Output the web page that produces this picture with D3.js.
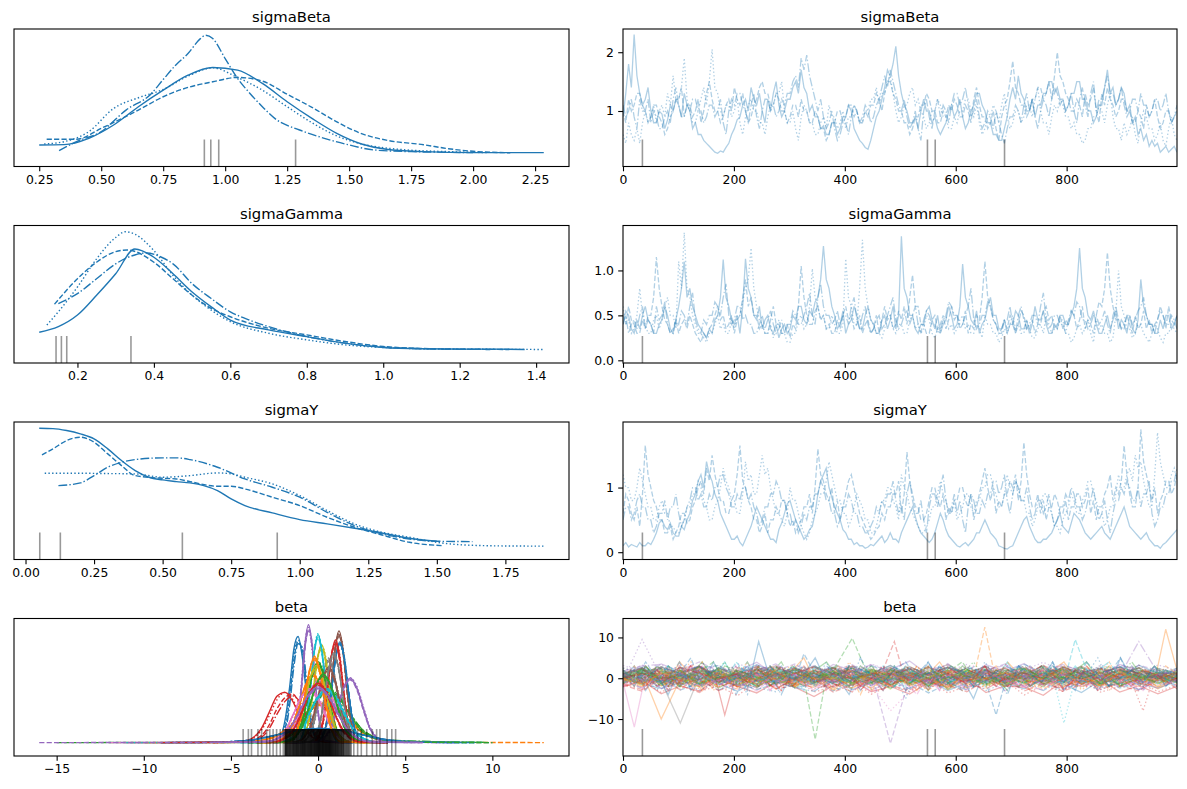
<!DOCTYPE html>
<html>
<head>
<meta charset="utf-8">
<script src="https://cdn.jsdelivr.net/npm/d3@7"></script>
<style>
body { margin: 0; background: #fff; }
text { font-family: "DejaVu Sans", sans-serif; }
</style>
</head>
<body>
<script>
// ---- sigmaBeta : kde per chain (x grid, density) ----
var sbKdeX = [
  [0.25,0.35,0.45,0.55,0.65,0.75,0.85,0.95,1.05,1.15,1.25,1.35,1.45,1.55,1.65,1.8,2.0,2.285],
  [0.28,0.4,0.5,0.65,0.75,0.85,0.95,1.05,1.15,1.25,1.35,1.45,1.55,1.65,1.8,1.9,2.0,2.15],
  [0.27,0.35,0.45,0.55,0.65,0.75,0.85,0.95,1.05,1.15,1.25,1.35,1.45,1.55,1.7,1.9,2.06],
  [0.33,0.4,0.5,0.6,0.7,0.75,0.8,0.85,0.9,0.92,0.95,1.0,1.05,1.1,1.15,1.2,1.3,1.4,1.5,1.6,1.75,1.9,2.0]
];
var sbKdeY = [
  [0.127,0.132,0.228,0.431,0.710,0.963,1.191,1.308,1.268,1.065,0.786,0.532,0.304,0.142,0.061,0.025,0.010,0.010],
  [0.213,0.213,0.380,0.659,0.862,1.004,1.09,1.156,1.10,0.90,0.70,0.48,0.30,0.20,0.13,0.07,0.03,0.008],
  [0.142,0.177,0.330,0.684,0.847,0.973,1.176,1.303,1.156,0.963,0.710,0.466,0.264,0.142,0.061,0.025,0.010],
  [0.041,0.177,0.330,0.659,0.902,1.125,1.343,1.521,1.749,1.8,1.749,1.445,1.141,0.913,0.710,0.532,0.355,0.228,0.127,0.051,0.025,0.015,0.010]
];
var sbDiv = [0.916,0.942,0.974,1.284];

// ---- sigmaGamma ----
var sgKdeX = [
  [0.1,0.15,0.2,0.25,0.3,0.35,0.4,0.45,0.5,0.55,0.6,0.7,0.8,0.9,1.0,1.1,1.2,1.3,1.37],
  [0.14,0.2,0.25,0.3,0.33,0.4,0.45,0.5,0.55,0.6,0.7,0.8,0.9,1.0,1.1,1.2,1.33],
  [0.12,0.15,0.2,0.25,0.3,0.325,0.35,0.4,0.45,0.5,0.55,0.6,0.7,0.8,0.9,1.0,1.2,1.42],
  [0.15,0.2,0.25,0.3,0.35,0.38,0.42,0.45,0.5,0.55,0.6,0.65,0.7,0.8,0.9,1.0,1.1,1.28]
];
var sgKdeY = [
  [0.475,0.627,0.941,1.478,2.061,2.733,2.509,2.061,1.568,1.165,0.806,0.538,0.358,0.179,0.063,0.027,0.018,0.018,0.009],
  [1.236,1.926,2.374,2.661,2.706,2.374,1.926,1.478,1.12,0.896,0.582,0.403,0.224,0.09,0.036,0.018,0.009],
  [0.672,1.03,1.702,2.464,3.046,3.2,3.136,2.688,2.016,1.478,1.075,0.762,0.448,0.269,0.134,0.063,0.018,0.009],
  [1.254,1.523,1.926,2.33,2.571,2.625,2.509,2.33,1.792,1.389,1.03,0.806,0.627,0.358,0.179,0.072,0.027,0.009]
];
var sgDiv = [0.144,0.158,0.172,0.340];

// ---- sigmaY ----
var syKdeX = [
  [0.05,0.1,0.15,0.2,0.25,0.3,0.35,0.4,0.45,0.5,0.55,0.6,0.65,0.7,0.75,0.8,0.9,1.0,1.1,1.2,1.3,1.4,1.5],
  [0.06,0.1,0.15,0.2,0.25,0.3,0.35,0.4,0.5,0.55,0.6,0.7,0.75,0.8,0.9,1.0,1.1,1.2,1.3,1.4,1.52],
  [0.07,0.2,0.3,0.4,0.5,0.6,0.7,0.75,0.8,0.9,1.0,1.1,1.2,1.3,1.4,1.5,1.6,1.75,1.89],
  [0.12,0.2,0.25,0.3,0.35,0.4,0.5,0.55,0.6,0.7,0.8,0.9,1.0,1.1,1.2,1.3,1.4,1.5,1.63]
];
var syKdeY = [
  [1.451,1.447,1.423,1.382,1.32,1.197,1.054,0.931,0.849,0.816,0.795,0.779,0.746,0.685,0.582,0.5,0.41,0.328,0.275,0.221,0.164,0.098,0.062],
  [1.123,1.197,1.3,1.341,1.279,1.136,0.992,0.869,0.836,0.828,0.795,0.738,0.738,0.705,0.603,0.5,0.357,0.234,0.139,0.049,0.008],
  [0.898,0.898,0.894,0.89,0.849,0.869,0.902,0.89,0.849,0.767,0.623,0.439,0.275,0.172,0.111,0.049,0.016,0.004,0.002],
  [0.746,0.779,0.869,0.972,1.033,1.066,1.087,1.087,1.066,0.972,0.828,0.726,0.603,0.418,0.254,0.152,0.09,0.062,0.057]
];
var syDiv = [0.052,0.127,0.572,0.918];

// ---- beta : kde per parameter (x grid, 4 chains) ----
var betaKdeX = [
  [-3.5,-2.35,-1.87,-1.63,-1.39,-1.15,-0.91,-0.67,-0.43,0.05,2.0],
  [-7,-3.9,-2.22,-1.38,-0.54,0.3,1.14,1.98,2.82,4.5,7,12.95],
  [-15,-5,-2.7,-1.38,-0.72,-0.06,0.6,1.26,1.92,2.58,3.9,9.5],
  [-6,-4.15,-3.25,-2.8,-2.35,-1.9,-1.45,-1.0,-0.55,0.35,1.5],
  [-3,-1.55,-1.15,-0.95,-0.75,-0.55,-0.35,-0.15,0.05,0.45,2],
  [-1.5,0.06,0.52,0.74,0.97,1.2,1.43,1.66,1.88,2.34,3.5],
  [-12,-5,-2.6,-1.52,-0.98,-0.44,0.1,0.64,1.18,1.72,2.8,5],
  [-11,-3,-0.9,-0.3,0.0,0.3,0.6,0.9,1.2,1.5,2.1,4],
  [-2.5,-1.06,-0.56,-0.3,-0.05,0.2,0.45,0.7,0.96,1.46,3],
  [-2.5,-1.14,-0.68,-0.46,-0.23,0,0.23,0.46,0.68,1.14,2.5],
  [-1.5,-0.01,0.49,0.75,1.0,1.25,1.5,1.75,2.01,2.51,3.8],
  [-10,-4,-2.4,-1.56,-1.14,-0.72,-0.3,0.12,0.54,0.96,1.8,3.5],
  [-3.5,-1.65,-0.99,-0.66,-0.33,0,0.33,0.66,0.99,1.65,3.5],
  [-1.8,-0.2,0.28,0.52,0.76,1.0,1.24,1.48,1.72,2.2,3.5],
  [-1.5,-0.1,0.68,1.07,1.46,1.85,2.24,2.63,3.02,3.8,8],
  [-3,-1.2,-0.48,-0.12,0.24,0.6,0.96,1.32,1.68,2.4,4],
  [-8,-2.9,-1.94,-1.46,-0.98,-0.5,-0.02,0.46,0.94,1.9,3.5],
  [-2,-0.45,0.09,0.36,0.63,0.9,1.17,1.44,1.71,2.25,3.5],
  [-3.5,-1.9,-1.18,-0.82,-0.46,-0.1,0.26,0.62,0.98,1.7,3],
  [-11,-4.5,-2.2,-1.12,-0.58,-0.04,0.5,1.04,1.58,2.12,3.2,10],
  [-9,-6.5,-3.86,-2.54,-1.22,0.1,1.42,2.74,4.06,6.7,9],
  [-3.5,-1.7,-1.1,-0.8,-0.5,-0.2,0.1,0.4,0.7,1.3,2.8],
  [-4,-1.8,-0.96,-0.54,-0.12,0.3,0.72,1.14,1.56,2.4,10],
  [-9,-2.4,-1.44,-0.96,-0.48,0,0.48,0.96,1.44,2.4,4],
  [-16,-6,-3,-1.8,-1.2,-0.6,0,0.6,1.2,1.8,3,6]
];
var betaKdeY = [
  [[0.001,0.008,0.14,0.31,0.52,0.59,0.48,0.28,0.11,0.007,0.001],
   [0.001,0.004,0.09,0.25,0.46,0.56,0.52,0.33,0.14,0.01,0.001],
   [0.001,0.006,0.11,0.28,0.49,0.57,0.5,0.3,0.12,0.008,0.001],
   [0.001,0.003,0.07,0.21,0.42,0.55,0.53,0.36,0.16,0.012,0.001]],
  [[0.002,0.006,0.05,0.11,0.18,0.21,0.18,0.1,0.04,0.006,0.002,null],
   [0.002,0.005,0.04,0.1,0.17,0.22,0.19,0.11,0.05,0.008,0.003,0.001],
   [0.002,0.007,0.05,0.12,0.19,0.21,0.17,0.1,0.04,0.005,0.002,null],
   [null,0.006,0.04,0.11,0.18,0.22,0.18,0.11,0.04,0.006,0.002,null]],
  [[null,0.002,0.01,0.06,0.14,0.24,0.29,0.24,0.14,0.06,0.012,0.002],
   [0.001,0.002,0.01,0.05,0.13,0.23,0.3,0.25,0.15,0.07,0.014,null],
   [null,0.003,0.012,0.06,0.15,0.25,0.29,0.23,0.13,0.05,0.01,null],
   [null,0.002,0.01,0.05,0.13,0.23,0.28,0.25,0.15,0.07,0.016,0.002]],
  [[0.001,0.012,0.08,0.17,0.26,0.28,0.23,0.13,0.05,0.004,0.001],
   [0.001,0.005,0.04,0.1,0.19,0.25,0.27,0.2,0.1,0.01,0.001],
   [0.001,0.01,0.07,0.15,0.24,0.28,0.24,0.14,0.06,0.005,0.001],
   [null,0.003,0.03,0.08,0.16,0.23,0.26,0.22,0.12,0.015,0.002]],
  [[0.001,0.008,0.13,0.32,0.55,0.655,0.55,0.32,0.13,0.008,0.001],
   [0.001,0.006,0.11,0.29,0.52,0.63,0.56,0.34,0.14,0.01,0.001],
   [0.001,0.01,0.15,0.34,0.56,0.64,0.52,0.3,0.12,0.007,0.001],
   [0.001,0.007,0.12,0.31,0.53,0.62,0.54,0.33,0.14,0.009,0.001]],
  [[0.001,0.008,0.12,0.3,0.52,0.62,0.52,0.3,0.12,0.008,0.001],
   [0.001,0.01,0.14,0.32,0.52,0.6,0.5,0.28,0.11,0.007,0.001],
   [0.001,0.007,0.11,0.29,0.5,0.61,0.53,0.31,0.13,0.009,0.001],
   [0.001,0.009,0.13,0.31,0.51,0.59,0.51,0.3,0.12,0.008,0.001]],
  [[0.001,0.002,0.01,0.07,0.17,0.29,0.35,0.29,0.17,0.07,0.01,0.002],
   [null,0.002,0.012,0.08,0.18,0.3,0.34,0.28,0.16,0.06,0.009,0.002],
   [null,0.002,0.009,0.06,0.16,0.28,0.35,0.3,0.18,0.07,0.011,0.002],
   [null,0.003,0.011,0.07,0.17,0.29,0.34,0.29,0.17,0.07,0.01,0.002]],
  [[0.001,0.002,0.006,0.09,0.23,0.39,0.46,0.39,0.23,0.09,0.006,0.001],
   [null,0.002,0.007,0.1,0.24,0.4,0.47,0.38,0.22,0.08,0.005,0.001],
   [null,0.001,0.005,0.08,0.22,0.38,0.47,0.4,0.24,0.1,0.007,0.001],
   [null,0.002,0.006,0.09,0.23,0.39,0.45,0.39,0.23,0.09,0.006,0.001]],
  [[0.001,0.007,0.11,0.27,0.46,0.545,0.46,0.27,0.11,0.007,0.001],
   [0.001,0.008,0.12,0.28,0.46,0.53,0.44,0.26,0.1,0.006,0.001],
   [0.001,0.006,0.1,0.26,0.45,0.54,0.47,0.28,0.12,0.008,0.001],
   [0.001,0.007,0.11,0.27,0.45,0.52,0.45,0.27,0.11,0.007,0.001]],
  [[0.001,0.008,0.12,0.29,0.5,0.6,0.5,0.29,0.12,0.008,0.001],
   [0.001,0.007,0.11,0.28,0.49,0.59,0.51,0.3,0.13,0.009,0.001],
   [0.002,0.009,0.13,0.3,0.51,0.606,0.49,0.28,0.11,0.007,0.001],
   [0.001,0.008,0.12,0.29,0.5,0.58,0.49,0.29,0.12,0.008,0.001]],
  [[0.001,0.007,0.11,0.28,0.47,0.56,0.47,0.28,0.11,0.007,0.001],
   [0.001,0.006,0.1,0.26,0.46,0.55,0.48,0.29,0.12,0.008,0.001],
   [0.001,0.008,0.12,0.29,0.47,0.54,0.46,0.27,0.1,0.006,0.001],
   [0.001,0.007,0.11,0.27,0.46,0.55,0.47,0.28,0.11,0.007,0.001]],
  [[0.001,0.002,0.008,0.08,0.19,0.32,0.38,0.32,0.19,0.08,0.007,0.001],
   [null,0.002,0.009,0.08,0.19,0.32,0.37,0.31,0.18,0.07,0.006,0.001],
   [null,0.002,0.007,0.07,0.18,0.31,0.38,0.33,0.2,0.08,0.008,0.001],
   [null,0.002,0.008,0.08,0.19,0.32,0.37,0.32,0.19,0.08,0.007,0.001]],
  [[0.001,0.006,0.09,0.22,0.38,0.45,0.38,0.22,0.09,0.006,0.001],
   [0.001,0.007,0.1,0.23,0.38,0.44,0.37,0.21,0.08,0.005,0.001],
   [0.001,0.005,0.08,0.21,0.37,0.45,0.39,0.23,0.1,0.007,0.001],
   [0.001,0.006,0.09,0.22,0.37,0.43,0.37,0.22,0.09,0.006,0.001]],
  [[0.001,0.007,0.11,0.28,0.48,0.57,0.48,0.28,0.11,0.007,0.001],
   [0.001,0.009,0.13,0.3,0.49,0.55,0.45,0.26,0.1,0.006,0.001],
   [0.001,0.006,0.1,0.27,0.47,0.56,0.49,0.29,0.12,0.008,0.001],
   [0.001,0.008,0.12,0.29,0.48,0.54,0.46,0.27,0.11,0.007,0.001]],
  [[0.001,0.005,0.07,0.18,0.3,0.36,0.3,0.18,0.07,0.005,0.001],
   [0.001,0.006,0.08,0.19,0.31,0.35,0.29,0.17,0.07,0.005,null],
   [0.001,0.004,0.06,0.17,0.29,0.36,0.31,0.19,0.08,0.006,null],
   [0.001,0.005,0.07,0.18,0.3,0.35,0.3,0.18,0.07,0.005,0.001]],
  [[0.001,0.006,0.08,0.2,0.35,0.42,0.35,0.2,0.08,0.006,0.001],
   [0.001,0.007,0.09,0.21,0.35,0.41,0.34,0.19,0.08,0.005,0.001],
   [0.001,0.005,0.08,0.2,0.34,0.42,0.36,0.21,0.09,0.007,0.001],
   [0.001,0.006,0.08,0.2,0.35,0.4,0.34,0.2,0.08,0.006,0.001]],
  [[null,0.004,0.06,0.15,0.25,0.3,0.25,0.15,0.06,0.004,0.001],
   [null,0.005,0.06,0.15,0.25,0.29,0.24,0.14,0.05,0.004,0.001],
   [0.001,0.004,0.05,0.14,0.24,0.3,0.26,0.16,0.06,0.005,0.001],
   [null,0.004,0.06,0.15,0.25,0.29,0.25,0.15,0.06,0.004,0.001]],
  [[0.001,0.006,0.1,0.25,0.42,0.5,0.42,0.25,0.1,0.006,0.001],
   [0.001,0.007,0.11,0.26,0.42,0.49,0.41,0.24,0.09,0.005,0.001],
   [0.001,0.005,0.09,0.24,0.41,0.5,0.43,0.26,0.11,0.007,0.001],
   [0.001,0.006,0.1,0.25,0.41,0.48,0.41,0.25,0.1,0.006,0.001]],
  [[0.001,0.006,0.08,0.21,0.36,0.43,0.36,0.21,0.08,0.006,0.001],
   [0.001,0.005,0.08,0.2,0.36,0.42,0.36,0.22,0.09,0.007,0.001],
   [0.001,0.007,0.09,0.22,0.36,0.42,0.35,0.2,0.08,0.005,0.001],
   [0.001,0.006,0.08,0.21,0.35,0.41,0.35,0.21,0.08,0.006,0.001]],
  [[null,0.001,0.004,0.06,0.15,0.25,0.3,0.25,0.15,0.06,0.004,null],
   [null,0.001,0.005,0.06,0.15,0.25,0.29,0.24,0.14,0.06,0.005,0.001],
   [0.001,0.001,0.004,0.05,0.14,0.25,0.3,0.26,0.16,0.06,0.004,null],
   [null,null,0.004,0.06,0.15,0.24,0.29,0.25,0.15,0.06,0.004,null]],
  [[0.001,0.002,0.015,0.04,0.068,0.08,0.068,0.04,0.015,0.002,0.001],
   [0.001,0.002,0.014,0.039,0.067,0.079,0.069,0.041,0.016,0.002,null],
   [null,0.002,0.016,0.041,0.068,0.078,0.066,0.039,0.014,0.002,0.001],
   [null,0.002,0.015,0.04,0.067,0.08,0.068,0.04,0.015,0.002,null]],
  [[0.001,0.006,0.1,0.24,0.4,0.48,0.4,0.24,0.1,0.006,0.001],
   [0.001,0.007,0.1,0.25,0.4,0.47,0.39,0.23,0.09,0.005,0.001],
   [0.001,0.005,0.09,0.23,0.39,0.48,0.41,0.25,0.1,0.007,0.001],
   [0.001,0.006,0.1,0.24,0.39,0.46,0.39,0.24,0.1,0.006,0.001]],
  [[0.001,0.007,0.08,0.19,0.32,0.38,0.32,0.19,0.08,0.007,null],
   [0.001,0.006,0.08,0.19,0.31,0.37,0.32,0.2,0.08,0.008,0.001],
   [0.001,0.007,0.08,0.19,0.32,0.37,0.31,0.19,0.07,0.006,null],
   [null,0.007,0.08,0.19,0.32,0.38,0.32,0.19,0.08,0.007,null]],
  [[0.001,0.005,0.07,0.16,0.28,0.33,0.28,0.16,0.07,0.005,0.001],
   [null,0.005,0.07,0.17,0.28,0.32,0.27,0.16,0.06,0.005,0.001],
   [0.001,0.004,0.06,0.16,0.27,0.33,0.29,0.17,0.07,0.005,0.001],
   [null,0.005,0.07,0.16,0.28,0.32,0.28,0.16,0.07,0.005,0.001]],
  [[null,0.002,0.006,0.06,0.15,0.26,0.31,0.26,0.15,0.06,0.006,0.001],
   [0.001,0.002,0.007,0.06,0.15,0.26,0.3,0.25,0.15,0.06,0.006,0.001],
   [null,0.002,0.005,0.06,0.15,0.26,0.31,0.26,0.16,0.06,0.006,0.001],
   [null,0.002,0.006,0.06,0.15,0.25,0.3,0.26,0.15,0.06,0.007,0.002]]
];
var betaDiv = [-4.3,-4.0,-3.82,-3.45,-3.24,-2.95,-2.77,-2.58,-2.38,-2.17,-2.0,-1.9,-1.88,-1.87,-1.85,-1.83,-1.8,-1.79,-1.77,-1.74,
  -1.72,-1.69,-1.67,-1.65,-1.62,-1.6,-1.58,-1.56,-1.52,-1.5,-1.49,-1.45,-1.43,-1.41,-1.4,-1.37,-1.35,-1.33,-1.3,-1.28,
  -1.26,-1.25,-1.22,-1.2,-1.18,-1.17,-1.14,-1.12,-1.1,-1.09,-1.05,-1.03,-1.01,-1.0,-0.98,-0.95,-0.93,-0.92,-0.9,-0.88,
  -0.86,-0.85,-0.82,-0.8,-0.79,-0.77,-0.75,-0.73,-0.72,-0.7,-0.67,-0.65,-0.64,-0.61,-0.59,-0.58,-0.55,-0.53,-0.52,-0.5,
  -0.47,-0.46,-0.44,-0.42,-0.4,-0.39,-0.38,-0.35,-0.33,-0.32,-0.3,-0.27,-0.26,-0.24,-0.22,-0.2,-0.19,-0.17,-0.15,-0.13,
  -0.12,-0.1,-0.08,-0.07,-0.05,-0.03,-0.01,0.0,0.02,0.03,0.04,0.06,0.08,0.09,0.1,0.12,0.14,0.15,0.17,0.19,
  0.21,0.22,0.24,0.26,0.27,0.28,0.3,0.32,0.33,0.35,0.37,0.39,0.4,0.42,0.44,0.45,0.47,0.49,0.5,0.52,
  0.54,0.55,0.57,0.59,0.6,0.62,0.64,0.65,0.66,0.68,0.7,0.71,0.73,0.75,0.77,0.78,0.8,0.83,0.84,0.86,
  0.88,0.9,0.92,0.95,0.97,0.98,1.0,1.03,1.04,1.06,1.1,1.11,1.12,1.15,1.18,1.19,1.22,1.25,1.27,1.3,
  1.33,1.35,1.36,1.4,1.43,1.45,1.47,1.5,1.55,1.58,1.62,1.65,1.7,1.72,1.77,1.8,1.85,1.9,2.05,2.27,
  2.48,2.79,3.11,3.36,3.55,3.96,4.23,4.45];

// ---- traces (thinned draws, 4 chains) ----
var sbTrace = [
  [0.9,1.3,1.8,1.4,2.3,1.6,1.3,1.1,1.2,1.4,1.0,0.8,0.8,1.0,0.95,0.7,0.85,1.1,1.0,1.2,
   1.1,0.9,1.3,1.1,1.0,0.7,0.8,0.6,0.6,0.5,0.45,0.4,0.35,0.3,0.28,0.32,0.3,0.38,0.45,0.6,
   0.7,0.85,0.9,1.1,1.2,1.0,1.4,1.2,1.1,1.3,1.0,0.8,1.2,1.0,1.3,1.5,1.1,0.9,1.0,1.2,
   1.2,1.4,1.5,1.3,1.7,1.4,1.3,1.0,1.1,0.9,0.9,0.7,0.75,0.6,0.6,0.8,0.8,0.6,0.7,0.9,
   0.9,1.1,1.0,0.7,0.6,0.5,0.45,0.38,0.35,0.5,0.7,0.9,1.0,1.2,1.4,1.7,1.6,1.8,2.1,1.6,
   1.3,1.1,1.0,0.8,0.8,0.9,0.7,1.0,1.2,1.0,1.0,0.8,0.9,0.7,0.6,0.7,0.8,1.0,1.1,0.9,
   1.0,1.2,0.9,0.7,0.8,1.0,1.1,1.3,1.3,1.1,1.0,0.8,0.8,0.6,0.6,0.5,0.5,0.7,0.9,1.2,
   1.4,1.2,1.6,1.3,1.2,1.0,1.0,1.2,0.9,1.1,1.1,1.3,1.3,1.5,1.5,1.3,1.4,1.2,1.2,1.0,
   1.1,1.3,1.3,1.5,1.5,1.2,1.2,1.0,1.0,0.8,0.9,1.1,1.1,1.4,1.7,1.3,1.4,1.1,1.2,1.4,
   1.3,1.0,1.1,0.8,0.9,0.6,0.7,0.5,0.6,0.4,0.5,0.4,0.45,0.3,0.35,0.4,0.3,0.35,0.4,0.3],
  [1.0,0.8,1.2,1.0,1.1,1.3,1.3,1.1,1.0,0.8,0.9,1.1,1.1,0.9,0.8,0.6,0.7,0.9,1.0,1.2,
   1.2,1.4,0.9,1.1,1.1,0.9,1.0,1.2,0.8,1.0,1.3,1.5,1.2,1.0,1.0,0.8,0.9,1.1,1.2,1.0,
   1.4,1.2,1.1,1.3,1.0,0.8,0.9,1.1,1.2,1.4,1.5,1.3,1.3,1.1,1.1,1.3,1.2,1.0,1.0,0.8,
   0.9,1.1,1.1,0.9,1.2,1.0,1.0,0.8,0.8,1.0,0.9,0.7,0.7,0.5,0.6,0.8,0.8,1.0,1.0,0.8,
   0.9,1.1,1.1,0.9,1.0,0.8,0.8,1.0,0.9,1.1,1.1,1.3,1.2,1.0,1.3,1.5,1.5,1.3,1.2,1.0,
   1.0,0.8,0.8,0.6,0.7,0.9,0.9,1.1,1.1,1.3,1.2,1.0,1.0,0.8,0.8,1.0,0.9,1.1,1.0,1.2,
   1.1,0.9,0.9,1.1,1.0,0.8,1.2,1.4,1.1,0.9,0.9,0.7,0.8,1.0,0.7,0.5,0.9,1.1,1.2,1.5,
   1.85,1.4,1.3,1.1,1.1,0.9,1.0,1.2,1.2,1.4,1.4,1.2,1.3,1.5,1.2,1.6,2.0,1.6,1.5,1.3,
   1.2,1.0,1.0,1.2,1.1,0.9,1.3,1.1,1.2,1.4,1.0,0.8,1.3,1.1,1.4,1.2,1.1,0.9,1.0,1.2,
   1.2,1.0,1.0,0.8,0.8,1.0,0.9,0.7,1.1,0.9,1.0,1.2,0.9,0.7,0.8,1.0,1.0,0.8,0.9,1.0],
  [0.6,0.45,0.8,0.6,0.5,0.7,0.45,0.8,1.0,0.8,0.9,1.1,0.8,1.0,1.1,0.9,1.3,1.1,1.6,1.2,
   1.2,1.4,1.9,1.2,1.0,0.8,0.8,1.0,1.2,1.4,1.1,1.5,2.05,1.4,1.3,1.0,0.9,1.1,1.1,0.9,
   1.0,1.2,0.8,0.6,0.9,1.1,1.2,1.0,1.0,0.8,0.8,0.6,0.9,1.1,1.1,1.3,1.3,1.5,1.0,0.8,
   0.8,1.0,0.7,0.5,0.9,1.1,1.0,0.8,0.8,0.6,0.6,0.8,0.9,0.7,1.1,0.9,0.9,0.7,0.8,1.0,
   0.7,0.9,0.9,1.1,1.0,0.8,0.8,1.0,1.0,1.2,1.2,1.4,1.1,1.3,1.3,1.5,1.6,1.3,1.0,0.8,
   0.9,1.1,1.1,1.3,1.4,1.1,1.2,1.0,0.9,0.7,0.8,1.0,1.0,1.2,1.1,0.9,0.9,0.7,0.7,0.9,
   0.8,1.0,1.0,1.2,1.2,1.0,0.9,1.1,0.8,0.6,0.7,0.9,0.9,1.1,1.0,0.8,1.1,1.3,0.9,0.7,
   0.8,1.0,1.0,0.8,0.9,1.1,1.1,0.9,1.2,1.4,1.0,0.8,0.8,0.6,0.9,1.1,1.0,1.2,1.1,0.9,
   0.9,0.7,0.8,0.6,0.6,0.45,0.5,0.7,0.7,0.9,0.9,1.1,1.0,0.8,1.1,1.3,0.9,0.7,0.7,0.5,
   0.8,0.6,0.7,0.9,0.6,0.45,0.8,1.0,0.9,0.7,0.7,0.5,0.6,0.8,0.5,0.4,0.7,0.9,0.6,0.5],
  [1.1,0.9,1.0,1.2,0.9,0.7,1.2,1.0,1.0,1.2,0.8,1.0,0.9,0.7,0.7,0.9,1.0,0.8,1.2,1.4,
   1.1,0.9,0.9,1.1,1.0,1.2,1.2,1.0,1.0,0.8,0.9,1.1,1.1,0.9,1.0,1.2,0.8,0.6,1.0,1.2,
   1.1,1.3,1.3,1.1,1.0,0.8,1.1,1.3,0.9,0.7,1.0,1.2,1.2,1.0,1.1,0.9,1.0,1.2,1.1,1.3,
   1.3,1.5,1.6,1.4,1.9,1.7,1.95,1.6,1.4,1.2,1.0,1.2,0.9,0.7,0.8,1.0,0.7,0.5,0.6,0.8,
   0.8,0.6,0.9,1.1,1.0,0.8,0.9,1.1,1.0,0.8,0.9,1.1,1.2,1.4,1.6,1.4,1.7,1.5,1.3,1.1,
   1.0,1.2,0.9,0.7,0.8,1.0,0.7,0.5,1.0,1.2,0.9,0.7,1.0,1.2,0.9,1.1,1.0,0.8,1.1,1.3,
   1.3,1.1,1.2,1.4,1.1,0.9,1.0,1.2,0.9,0.7,0.8,1.0,0.9,0.7,1.0,0.8,0.6,0.45,0.7,0.9,
   0.9,1.1,1.0,0.8,1.1,1.3,1.0,1.2,0.9,0.7,1.0,1.2,1.1,0.9,1.2,1.4,1.3,1.1,1.2,1.0,
   1.1,1.3,1.0,0.8,1.2,1.4,1.1,0.9,1.3,1.5,1.0,1.2,1.2,1.4,1.6,1.3,1.3,1.1,1.2,1.4,
   1.1,0.9,1.0,1.2,1.2,1.0,1.3,1.1,1.1,0.9,1.0,1.2,1.2,1.0,1.1,1.3,1.0,0.8,0.9,1.1]
];
var sgTrace = [
  [0.4,0.55,0.5,0.35,0.3,0.45,0.35,0.5,0.6,0.45,0.4,0.3,0.3,0.4,0.45,0.6,0.5,0.35,0.3,0.45,
   0.6,0.8,1.1,0.7,0.8,0.6,0.5,0.4,0.35,0.3,0.25,0.35,0.3,0.45,0.5,0.7,1.12,0.7,0.6,0.45,
   0.4,0.5,0.3,0.6,1.13,0.8,0.7,0.5,0.45,0.6,0.35,0.45,0.5,0.35,0.3,0.4,0.25,0.35,0.4,0.3,
   0.35,0.5,0.45,0.6,0.6,0.45,0.4,0.55,0.5,0.65,0.7,0.9,1.27,0.9,0.8,0.6,0.5,0.35,0.4,0.55,
   0.3,0.4,0.45,0.6,0.5,0.35,0.35,0.5,0.6,0.45,0.4,0.3,0.3,0.45,0.5,0.35,0.45,0.6,0.35,0.5,
   1.38,0.8,0.7,0.5,0.5,0.35,0.3,0.4,0.4,0.55,0.6,0.45,0.35,0.5,0.3,0.4,0.45,0.6,0.5,0.35,
   0.4,0.6,1.07,0.7,0.6,0.45,0.4,0.55,0.3,0.4,0.45,0.6,0.7,0.5,0.5,0.35,0.35,0.45,0.3,0.4,
   0.4,0.55,0.5,0.35,0.35,0.45,0.3,0.4,0.6,0.45,0.45,0.55,0.4,0.3,0.3,0.4,0.35,0.5,0.5,0.4,
   0.4,0.5,0.6,0.8,1.25,0.8,0.7,0.5,0.45,0.55,0.4,0.3,0.3,0.4,0.5,0.35,0.45,0.55,0.35,0.45,
   0.4,0.3,0.5,0.35,0.3,0.45,0.9,0.6,0.5,0.4,0.4,0.3,0.3,0.45,0.35,0.5,0.5,0.35,0.4,0.5],
  [0.5,0.4,0.6,0.45,0.4,0.3,0.3,0.45,0.35,0.5,0.5,0.7,1.15,0.8,0.6,0.45,0.4,0.3,0.35,0.45,
   0.3,0.4,0.45,0.35,0.5,0.4,0.3,0.25,0.2,0.3,0.25,0.35,0.4,0.5,0.6,0.45,0.5,0.35,0.4,0.5,
   0.3,0.45,0.5,0.7,0.9,0.6,0.7,0.5,0.5,0.35,0.4,0.3,0.3,0.45,0.6,0.4,0.4,0.3,0.3,0.4,
   0.25,0.4,0.35,0.6,1.05,0.7,0.5,0.4,0.4,0.55,0.6,0.45,0.5,0.35,0.4,0.3,0.3,0.45,0.35,0.5,
   0.6,0.45,0.5,0.35,0.4,0.5,0.3,0.4,0.45,0.3,0.35,0.5,0.3,0.45,0.6,0.45,0.5,0.35,0.4,0.55,
   0.45,0.6,0.4,0.7,0.95,0.6,0.6,0.4,0.4,0.3,0.3,0.45,0.5,0.35,0.4,0.5,0.35,0.45,0.6,0.45,
   0.5,0.35,0.4,0.55,0.3,0.4,0.35,0.5,0.45,0.7,1.1,0.7,0.6,0.45,0.4,0.3,0.3,0.45,0.35,0.5,
   0.45,0.3,0.4,0.55,0.5,0.35,0.35,0.45,0.3,0.4,0.4,0.55,0.6,0.45,0.5,0.35,0.4,0.5,0.35,0.45,
   0.4,0.55,0.5,0.35,0.45,0.6,0.35,0.45,0.4,0.3,0.5,0.65,0.6,0.8,1.2,0.8,0.6,0.45,0.45,0.35,
   0.35,0.5,0.4,0.3,0.5,0.35,0.4,0.55,0.35,0.45,0.3,0.4,0.45,0.6,0.5,0.35,0.6,0.45,0.4,0.5],
  [0.6,0.4,0.45,0.3,0.35,0.5,0.8,0.5,0.4,0.3,0.3,0.45,0.5,0.35,0.45,0.6,0.7,0.5,0.5,0.35,
   1.1,0.8,1.42,0.8,0.7,0.5,0.4,0.3,0.3,0.25,0.2,0.3,0.3,0.4,0.5,0.35,0.4,0.3,0.3,0.45,
   0.35,0.5,0.5,0.65,0.8,0.9,1.25,0.8,0.6,0.45,0.4,0.3,0.3,0.4,0.25,0.35,0.45,0.3,0.3,0.2,
   0.2,0.3,0.3,0.45,0.5,0.35,0.4,0.6,1.02,0.7,0.6,0.45,0.5,0.35,0.35,0.5,0.4,0.3,0.3,0.4,
   1.13,0.7,0.6,0.4,0.4,0.8,1.34,0.8,0.6,0.45,0.4,0.3,0.3,0.25,0.35,0.5,0.5,0.35,0.3,0.4,
   0.4,0.3,0.3,0.45,0.5,0.35,0.4,0.3,0.35,0.5,0.45,0.3,0.25,0.35,0.3,0.45,0.5,0.35,0.4,0.3,
   0.35,0.45,0.5,0.35,0.4,0.3,0.3,0.4,0.35,0.25,0.5,0.4,0.4,0.3,0.3,0.2,0.25,0.35,0.3,0.4,
   0.5,0.35,0.4,0.3,0.3,0.45,0.35,0.25,0.25,0.35,0.4,0.3,0.5,0.4,0.3,0.35,0.35,0.45,0.45,0.3,
   0.3,0.2,0.25,0.35,0.4,0.3,0.35,0.45,0.3,0.2,0.45,0.35,0.4,0.3,0.3,0.2,0.25,0.5,1.0,0.6,
   0.5,0.35,0.35,0.25,0.3,0.4,0.4,0.3,0.25,0.2,0.3,0.4,0.35,0.25,0.2,0.3,0.3,0.4,0.35,0.3],
  [0.4,0.5,0.3,0.4,0.45,0.35,0.5,0.6,0.35,0.45,0.4,0.3,0.6,0.45,0.5,0.65,0.4,0.3,0.3,0.45,
   0.4,0.55,0.5,0.4,0.6,0.75,0.45,0.35,0.3,0.45,0.4,0.5,0.5,0.65,0.6,0.5,0.7,0.85,0.5,0.4,
   0.45,0.6,0.6,0.45,0.5,0.4,0.4,0.3,0.3,0.4,0.5,0.35,0.45,0.55,0.4,0.3,0.35,0.45,0.3,0.4,
   0.4,0.55,0.5,0.4,0.4,0.5,0.6,0.75,0.5,0.4,0.7,0.85,0.6,0.5,0.5,0.4,0.45,0.55,0.4,0.5,
   0.5,0.4,0.6,0.7,0.45,0.35,0.5,0.6,0.4,0.3,0.35,0.45,0.5,0.35,0.4,0.5,0.6,0.7,0.45,0.35,
   0.4,0.5,0.55,0.4,0.5,0.6,0.4,0.3,0.45,0.55,0.5,0.4,0.4,0.3,0.35,0.45,0.5,0.65,0.6,0.5,
   0.5,0.4,0.4,0.5,0.6,0.8,0.45,0.35,0.4,0.5,0.5,0.65,0.6,0.45,0.4,0.3,0.35,0.45,0.45,0.6,
   0.4,0.3,0.5,0.6,0.45,0.35,0.4,0.5,0.5,0.4,0.6,0.75,0.45,0.35,0.4,0.5,0.5,0.4,0.4,0.3,
   0.45,0.55,0.5,0.65,0.6,0.45,0.45,0.35,0.4,0.5,0.5,0.4,0.45,0.55,0.4,0.3,0.5,0.6,0.45,0.35,
   0.4,0.5,0.5,0.4,0.45,0.55,0.6,0.7,0.5,0.4,0.4,0.3,0.45,0.55,0.5,0.4,0.4,0.5,0.45,0.35]
];
var syTrace = [
  [0.1,0.15,0.08,0.12,0.1,0.08,0.15,0.1,0.1,0.15,0.12,0.2,0.3,0.45,0.5,0.4,0.35,0.45,0.3,0.25,
   0.25,0.4,0.35,0.5,0.6,0.8,0.9,1.1,1.2,1.0,1.4,1.2,1.1,0.9,0.8,0.6,0.5,0.4,0.3,0.2,
   0.2,0.25,0.15,0.1,0.2,0.3,0.4,0.55,0.7,0.6,0.5,0.4,0.3,0.2,0.2,0.15,0.35,0.45,0.6,0.75,
   0.8,0.65,0.5,0.4,0.3,0.2,0.25,0.35,0.4,0.6,0.9,1.1,1.2,1.3,1.0,0.85,0.7,0.6,0.5,0.35,
   0.3,0.2,0.2,0.12,0.15,0.1,0.1,0.06,0.08,0.12,0.1,0.15,0.2,0.25,0.15,0.2,0.3,0.2,0.2,0.15,
   0.3,0.4,0.5,0.6,0.7,0.55,0.4,0.3,0.25,0.2,0.15,0.2,0.3,0.45,0.6,0.5,0.35,0.25,0.2,0.15,
   0.1,0.08,0.12,0.15,0.1,0.15,0.2,0.3,0.3,0.4,0.5,0.4,0.3,0.25,0.2,0.1,0.08,0.06,0.05,0.08,
   0.1,0.2,0.3,0.4,0.5,0.55,0.4,0.3,0.2,0.15,0.15,0.2,0.2,0.25,0.3,0.4,0.5,0.6,0.4,0.35,
   0.3,0.45,0.6,0.55,0.5,0.4,0.3,0.25,0.2,0.25,0.3,0.35,0.4,0.3,0.25,0.2,0.3,0.4,0.5,0.6,
   0.7,0.55,0.4,0.35,0.3,0.25,0.2,0.25,0.3,0.2,0.15,0.1,0.1,0.06,0.12,0.15,0.2,0.25,0.3,0.35],
  [0.6,0.9,0.8,0.6,0.5,0.7,0.4,0.9,1.65,1.2,1.0,0.8,0.7,0.5,0.5,0.3,0.3,0.4,0.2,0.3,
   0.4,0.6,0.6,0.45,0.5,0.7,0.8,1.0,1.1,0.9,1.3,1.1,1.5,1.2,1.0,0.8,0.8,0.6,0.6,0.8,
   0.9,1.2,1.65,1.1,1.0,0.8,0.7,0.5,0.5,0.3,0.4,0.6,0.3,0.5,0.5,0.7,0.6,0.8,0.8,0.6,
   0.4,0.5,0.3,0.4,0.5,0.7,0.7,0.9,0.6,1.0,1.6,1.2,1.1,0.9,0.8,1.0,0.6,0.8,0.5,0.7,
   0.9,1.1,1.2,1.0,0.8,0.6,0.5,0.4,0.3,0.2,0.25,0.35,0.4,0.6,0.5,0.7,0.7,0.9,0.9,1.1,
   0.6,0.9,1.55,1.1,0.9,0.7,0.7,0.5,0.5,0.6,0.8,1.0,1.0,0.8,0.7,0.9,0.5,0.7,0.6,0.8,
   0.8,1.0,1.0,0.8,0.7,0.9,0.5,0.7,0.9,1.1,1.3,1.0,0.8,1.0,0.6,0.8,0.7,0.9,0.9,1.1,
   1.0,1.2,0.8,1.1,1.7,1.2,0.9,0.7,0.7,0.9,0.6,0.8,0.5,0.7,0.7,0.9,0.8,0.6,0.6,0.8,
   0.5,0.7,0.7,0.9,0.9,0.7,0.8,1.0,0.6,0.8,0.5,0.7,0.7,0.9,1.0,1.2,0.8,1.0,0.9,1.1,
   1.65,1.2,0.9,0.7,0.7,1.0,1.9,1.4,1.2,1.0,0.8,1.0,0.6,0.8,0.9,1.1,1.1,0.9,1.0,1.2],
  [1.2,1.0,1.0,0.8,0.8,1.0,1.3,1.1,0.9,0.7,0.7,0.5,0.5,0.7,0.8,0.6,0.6,0.4,0.4,0.3,
   0.3,0.4,0.5,0.7,0.7,0.9,0.9,1.1,1.0,0.8,0.7,0.5,0.5,0.7,0.8,1.0,1.3,1.1,1.0,0.8,
   0.8,0.6,0.6,0.9,1.4,1.1,1.2,0.9,0.9,1.2,1.5,1.2,1.3,1.0,0.8,0.6,0.6,0.5,0.4,0.6,
   1.0,0.8,0.8,0.6,0.4,0.3,0.2,0.3,0.5,0.6,0.7,0.9,0.9,1.1,1.4,1.2,1.0,0.8,0.8,0.6,
   0.6,0.4,0.5,0.7,0.9,0.8,0.7,0.5,0.5,0.3,0.3,0.4,0.6,0.8,0.8,1.0,1.0,0.8,0.7,0.5,
   1.2,1.0,0.9,0.7,0.6,0.5,0.4,0.3,0.3,0.4,0.5,0.7,0.7,0.9,1.1,0.9,0.8,0.6,0.6,0.8,
   0.5,0.6,0.7,0.9,0.9,0.7,0.6,0.8,0.8,1.0,1.0,1.2,1.2,1.0,0.9,0.7,0.7,0.9,1.2,1.0,
   0.9,1.1,1.0,0.8,0.8,0.6,0.6,0.4,0.5,0.7,0.7,0.9,0.9,0.7,0.6,0.4,0.4,0.3,0.5,0.6,
   0.7,0.9,0.8,0.6,0.6,0.8,0.9,1.1,1.1,0.9,0.8,0.6,0.6,0.4,0.5,0.7,0.7,0.9,1.2,1.0,
   1.0,1.2,1.3,1.1,1.5,1.3,1.4,1.1,0.9,0.7,0.7,1.2,1.85,1.4,1.2,1.0,1.0,1.2,1.3,1.1],
  [0.5,0.7,0.7,0.5,0.6,0.8,0.9,0.7,0.7,0.5,0.5,0.3,0.4,0.6,0.6,0.8,0.5,0.7,0.7,0.9,
   0.6,0.4,0.5,0.7,0.8,1.0,1.0,0.8,0.9,0.7,0.7,0.9,0.8,1.0,1.0,1.2,1.2,1.0,0.9,0.7,
   0.7,0.9,0.8,1.0,1.0,0.8,0.9,0.7,0.6,0.4,0.5,0.7,0.7,0.9,0.9,1.1,1.0,0.8,0.8,0.6,
   0.6,0.4,0.5,0.3,0.4,0.6,0.5,0.7,0.7,0.9,0.9,1.1,1.0,0.8,0.8,0.6,0.6,0.4,0.5,0.7,
   0.7,0.9,0.8,0.6,0.6,0.4,0.4,0.3,0.3,0.4,0.5,0.7,0.6,0.8,0.7,0.9,0.9,1.1,0.8,0.6,
   0.7,0.5,0.9,1.1,0.8,0.6,0.6,0.8,0.5,0.3,0.7,0.9,0.9,0.7,1.0,1.2,0.8,0.6,0.7,0.9,
   0.6,0.8,0.5,0.3,0.7,0.9,0.8,0.6,0.6,0.8,0.7,0.9,0.9,1.1,1.1,0.9,1.0,1.2,0.8,0.6,
   0.9,1.1,1.0,0.8,0.8,1.0,0.7,0.5,0.6,0.8,0.8,0.6,0.7,0.9,0.6,0.4,0.5,0.7,0.7,0.9,
   0.8,1.0,0.9,0.7,0.7,0.5,0.6,0.8,0.8,1.0,0.7,0.5,0.6,0.8,0.5,0.3,0.6,0.8,0.8,1.0,
   0.9,1.1,1.0,0.8,0.8,1.0,0.7,0.9,0.9,1.1,0.6,0.4,0.5,0.7,0.7,0.9,0.9,1.1,1.1,1.3]
];
var betaTrace = [
  [[-1.2,0.5,-2.5,-1.1,1.0,-1.3,-3.2,-0.5,0.8,-2.4,-1.2,0.2,-2.8,-1.1,1.5,-1.3,-0.5,-3.0,-1.2,0.4,-1.1,-2.6,-0.2,-1.3,-3.5,-0.5,1.2,-1.2,-2.4,-0.8],
   [-0.5,-2.4,0.6,-2.9,-1.2,0.8,-1.1,-2.8,-1.3,1.0,-0.4,-3.1,-1.2,0.3,-2.4,-1.1,-3.6,-1.3,0.9,-1.2,-0.2,1.4,-1.3,-2.7,-1.1,0.2,-2.4,-1.2,0.7,-2.2],
   [-1.3,0.1,1.2,-1.2,-3.0,-0.5,0.4,-2.3,-3.3,-1.1,0.6,-1.2,-0.3,-2.7,-1.3,1.1,-1.1,-2.4,-0.2,-3.0,-1.2,0.5,-1.1,1.6,-1.3,-2.8,-1.1,0.6,-1.2,-0.4],
   [0.2,-1.2,-2.6,0.8,-0.5,-2.9,-1.2,1.3,-1.1,-2.3,-3.2,-0.4,0.7,-1.2,-0.2,-2.6,0.4,-1.1,-2.9,-0.5,1.0,-1.2,-3.0,-0.3,0.5,-2.3,-1.1,-2.8,0.3,-1.1]],
  [[1,-2,3,0,-1,4,1,-3,2,0,1,-1,3,-2,0,2,5,-1,1,0,-2,3,1,-1,2,0,-3,1,4,0,2,-1,1,3,-2,0,1,-1,2,4,0,1,-2,3,1,0,2,-1,12,2],
   [0,3,-1,2,-3,1,0,4,-2,1,2,-1,0,3,1,-2,2,0,-1,3,1,-4,2,0,1,-1,3,0,2,-2,1,0,12.5,-1,2,1,-3,0,2,1,-1,3,0,-2,1,2,0,-1,3,1],
   [-1,2,0,3,-2,1,4,-1,0,2,-3,1,0,-1,2,3,-2,0,1,-1,4,0,2,-2,1,0,3,-1,1,2,-3,0,1,2,-1,0,3,1,-2,0,2,-1,1,4,-1,0,2,-2,1,0],
   [2,0,-2,1,3,-1,0,2,-3,1,0,4,-1,2,0,-2,1,3,0,-1,2,1,-3,0,2,-1,1,3,-2,0,1,2,-1,0,4,1,-2,0,1,3,-1,0,2,-3,1,0,2,1,-1,0]],
  [[1,-1,3,0,2,-2,1,4,0,-1,2,1,-2,3,0,1,-1,2,4,0,-2,1,3,-1,0,2,1,-3,2,0,3,1,-1,2,0,-2,1,3,0,-1,2,4,0,1,-2,2,0,3,1,-1],
   [0,2,-1,3,1,-2,0,2,4,-1,1,0,3,-2,1,2,0,-15,1,3,-1,0,2,1,-2,3,0,1,-1,2,4,0,-1,2,1,-2,0,3,1,-1,2,0,1,3,-2,0,2,1,-1,0],
   [2,0,1,-2,3,0,-1,2,1,4,-1,0,2,-2,1,3,0,-1,2,0,-3,1,2,0,3,-1,1,0,2,-2,1,4,0,-1,2,1,-2,0,3,1,-1,2,0,-2,1,3,0,1,-1,2],
   [-1,1,3,0,-2,2,1,0,-1,3,2,-2,0,1,4,-1,2,0,1,-2,3,0,1,-1,2,1,1,-2,0,3,1,-1,2,0,-3,1,2,0,-1,3,1,0,-2,2,1,4,0,-1,2,0]],
  [[-2.1,-0.5,-3.8,-1.9,-3.2,0.2,-2.0,-3.6,-0.9,-2.2,-4.5,-1.8,-0.4,-3.3,-2.0,-3.9,-1.0,-2.1,0.0,-3.5,-1.9,-2.2,-4.2,-0.8,-2.0,-0.3,-3.4,-1.8,-3.8,-2.0],
   [-1.6,-3.2,0.1,-1.8,-3.5,-0.4,-1.9,0.5,-2.6,-1.7,-0.3,-3.4,-1.6,0.8,-1.8,-2.9,-0.2,-1.7,-3.3,-0.5,0.3,-1.9,-0.4,-3.2,-1.6,0.6,-1.8,-3.1,-0.3,-1.7],
   [-2.0,-0.7,-3.5,-0.4,-3.2,-1.9,-4.3,-0.6,-2.1,0.1,-3.4,-2.0,-0.5,-3.9,-1.8,-3.3,-0.4,-3.6,-1.9,-2.1,-0.6,-4.1,-1.8,-3.2,-0.5,-3.4,-2.0,-0.7,-3.3,-1.8],
   [-1.3,-2.8,0.4,-1.5,-0.2,-3.0,-1.4,0.9,-2.7,-0.1,-2.6,-1.3,-3.4,0.3,-1.5,-0.2,-2.8,1.0,-1.4,-2.6,-0.1,-3.1,-1.3,-2.5,0.2,-2.7,-1.2,-0.4,0.8,-2.6]],
  [[-0.5,-1.5,0.4,-0.6,-1.9,0.3,0.6,-1.4,-0.5,-2.0,-0.6,0.5,-0.5,-1.6,0.2,-0.6,-2.3,-0.5,0.7,-1.5,-0.6,0.3,-1.7,-0.5,0.5,-1.4,-1.9,-0.5,0.3,-0.6],
   [-1.4,0.3,-0.6,0.7,-1.6,-0.5,-1.9,-0.6,0.5,-0.5,-1.5,-2.1,0.3,-0.6,-1.7,0.6,-0.5,-1.4,-0.6,0.8,-0.5,-1.9,-0.6,0.3,-1.5,-0.5,0.6,-1.6,-0.6,-0.5],
   [0.3,-0.6,-1.9,-0.5,0.6,-1.5,-0.6,0.4,-1.7,0.8,-0.5,-1.5,-0.6,-2.2,-0.5,0.6,-0.6,0.3,-1.7,-0.5,-1.4,0.6,-0.5,-1.9,-0.6,0.4,-0.5,-1.5,0.6,-0.6],
   [-0.6,0.6,-0.5,-1.7,-0.6,0.3,-1.5,-2.1,-0.5,-0.6,0.6,-0.5,-1.7,0.3,0.8,-0.6,-0.5,-1.9,0.3,-0.6,-1.7,-0.5,0.6,-0.6,-0.5,-1.5,0.3,-0.6,-1.7,-0.5]],
  [[1.2,2.6,-0.1,1.3,3.0,0.2,1.2,-0.4,2.4,1.1,2.9,1.3,-0.2,1.2,2.7,0.1,1.3,3.4,1.1,-0.6,1.2,2.5,0.0,1.3,2.9,1.1,-0.3,1.2,2.4,1.1],
   [0.1,1.3,2.8,1.1,-0.3,1.2,2.6,1.3,-0.1,2.4,1.2,0.0,3.1,1.2,-0.2,1.3,1.1,2.7,1.2,0.1,2.5,-0.5,1.2,2.9,1.1,1.3,0.0,2.6,1.2,1.3],
   [2.5,1.1,1.2,-0.2,2.7,1.3,0.1,2.9,1.2,-0.4,1.3,2.6,1.1,0.0,2.4,1.2,-0.3,1.3,2.9,1.1,0.1,2.7,1.3,-0.2,1.2,2.5,1.1,3.2,0.0,1.2],
   [1.1,2.5,0.1,2.7,1.2,-0.2,1.3,1.1,3.1,1.2,0.0,2.4,1.3,-0.5,1.2,2.7,1.1,0.1,1.3,2.9,1.2,-0.2,2.5,1.1,1.3,0.0,2.7,1.2,-0.3,1.3]],
  [[-1,-12,1,-2,0,2,-1,3,0,-2,1,0,2,-3,1,-1,0,2,-2,1,3,-1,0,-2,1,2,-1,0,-3,2,1,0,-1,2,-2,0,1,3,-1,0,-2,1,0,2,-1,1,-3,0,2,-1],
   [1,0,-2,2,-1,0,3,-1,1,-2,0,2,1,-3,0,1,-1,2,0,-2,3,1,-1,0,2,-1,-4,1,0,2,-1,3,0,-2,1,0,-1,2,1,-3,0,2,-1,1,0,-2,2,1,-1,0],
   [-2,1,0,3,-1,1,-2,0,2,-1,1,3,-2,0,1,-1,2,0,-3,1,2,-1,0,1,-2,3,0,-1,1,2,-2,0,1,-1,3,0,-2,1,0,2,-1,1,-3,0,2,1,-1,0,1,-2],
   [0,2,-1,1,-3,0,2,1,-1,0,3,-2,1,0,-1,2,-2,0,1,3,-1,0,-2,2,1,-1,0,2,-3,1,0,-1,2,0,1,-2,3,0,-1,1,2,-2,0,1,-1,3,0,-1,2,0]],
  [[0.5,2.0,-0.8,-11,0.6,2.2,-0.9,0.7,-0.6,2.4,0.6,-1.2,1.8,0.5,2.6,-0.6,0.7,-1.0,1.9,0.6,-0.8,2.0,0.5,1.8,-1.0,0.7,2.2,-0.6,0.6,1.9],
   [1.8,-0.8,0.6,2.4,0.5,-1.0,1.9,0.6,2.1,-0.6,0.7,2.6,0.5,-1.0,1.8,0.6,2.2,-0.8,0.7,0.5,2.4,-0.6,-1.3,0.6,1.9,0.5,1.8,-0.8,2.1,0.6],
   [-0.6,0.7,2.2,0.5,1.9,-0.8,0.6,2.4,-1.0,1.8,0.5,0.7,-1.1,2.1,0.6,-0.6,1.9,2.7,0.5,-1.0,0.7,0.6,2.2,-0.8,1.8,0.5,-1.3,0.7,1.9,-0.6],
   [0.7,-1.0,1.9,0.6,-0.6,2.1,1.8,-0.8,0.6,2.2,0.5,-1.0,1.9,0.7,-0.6,2.4,0.6,1.8,-0.8,2.1,0.5,0.7,-0.6,2.6,0.6,-1.0,1.8,0.5,0.7,-0.8]],
  [[0.2,1.6,-1.3,0.3,2.1,-0.8,-1.6,1.4,0.2,2.3,-1.0,0.3,1.8,-1.4,0.2,1.6,-0.9,-1.8,0.3,1.9,0.2,-1.0,1.4,2.2,-0.8,-1.4,0.3,1.6,0.2,-1.0],
   [-1.0,0.3,1.9,0.2,-1.4,1.4,-0.8,2.1,0.3,-1.2,1.6,0.2,-1.0,2.4,0.3,-1.6,0.2,1.4,1.9,-0.8,-1.2,0.3,1.6,0.2,2.6,-1.0,1.4,-0.8,0.3,1.6],
   [1.4,-0.8,0.3,-1.6,1.6,0.2,2.4,-1.0,0.3,1.4,-1.2,1.9,0.2,0.3,-1.0,2.1,1.4,-0.8,-1.4,1.6,0.3,1.9,-1.0,0.2,1.4,2.1,-1.2,0.3,-0.8,1.4],
   [-0.8,1.4,0.2,1.9,-1.0,0.3,1.6,-1.4,1.4,-0.8,2.1,0.3,-1.2,0.2,1.6,-1.0,0.3,1.9,0.2,-1.6,1.4,-0.8,0.3,2.4,0.2,-1.0,1.6,0.3,-1.2,0.2]],
  [[0.0,1.3,-1.6,0.1,1.9,-1.0,0.2,-2.0,0.0,1.6,-0.8,1.3,-1.4,0.1,2.2,-1.0,0.0,1.3,-2.3,0.1,0.8,-1.4,1.6,0.0,-1.0,1.3,0.1,-1.6,0.8,0.0],
   [-1.0,0.8,1.6,-1.4,0.0,1.0,-2.0,1.3,0.1,-0.8,1.9,-1.0,0.0,1.3,-1.6,1.0,0.1,-1.4,1.6,0.0,-0.8,2.3,-1.0,0.1,1.3,-1.4,0.0,1.0,-0.8,1.3],
   [1.0,-0.8,0.0,1.6,-1.4,0.1,1.3,-1.0,1.9,0.0,-1.6,1.0,0.1,-0.8,1.3,0.0,-2.0,1.0,1.6,-1.0,0.1,0.0,1.3,-1.2,1.0,-0.8,1.6,0.0,-1.4,0.1],
   [0.1,1.6,-1.0,0.0,1.3,-1.6,1.0,0.0,-0.8,1.9,1.0,-1.4,0.1,1.6,0.0,-1.0,1.3,-0.8,0.0,1.0,-2.0,1.3,0.1,-1.0,1.6,0.0,-1.4,1.0,0.1,-0.8]],
  [[1.3,-0.2,2.8,1.2,-0.4,2.5,1.1,3.3,1.3,-0.1,1.2,2.7,0.0,1.3,3.1,1.1,-0.4,2.5,1.2,2.9,0.0,1.3,-0.2,2.7,1.2,2.5,0.0,3.2,1.2,1.3],
   [1.1,2.7,1.2,-0.2,2.5,3.1,0.0,1.3,2.7,1.1,-0.6,1.3,2.9,1.2,0.0,2.5,1.3,-0.2,2.7,1.2,1.1,3.4,1.3,0.0,2.5,1.1,2.9,1.2,-0.2,2.5],
   [2.5,1.2,0.0,2.7,1.3,1.1,3.1,-0.2,1.2,2.5,1.3,0.0,2.7,1.2,-0.4,1.3,2.9,1.1,0.0,2.5,1.3,1.2,2.9,-0.2,1.3,2.7,1.2,0.0,2.5,1.1],
   [1.2,0.0,2.5,1.3,2.9,0.0,1.2,2.7,1.1,-0.2,2.5,1.2,1.3,3.1,1.1,0.0,1.2,2.7,1.3,-0.2,2.9,1.1,1.2,2.5,0.0,1.3,2.7,1.1,1.3,1.2]],
  [[-0.3,1.5,-10,-0.2,1.6,-2.1,-0.4,1.1,-2.6,-0.1,-1.8,1.9,-0.3,-2.4,1.0,-0.5,1.3,-2.8,-0.2,1.5,-2.0,-0.3,1.1,-2.1,-0.4,1.6,-1.8,-0.1,-2.6,-0.3],
   [1.0,-1.8,-0.2,-2.8,1.3,-0.4,-2.1,1.6,-0.3,-2.0,1.1,-3.0,-0.4,0.9,-1.8,1.5,-0.2,-2.4,1.0,-0.5,1.9,-0.3,-2.6,-0.1,1.3,-2.0,-0.4,1.1,-2.1,-0.2],
   [-0.5,1.0,1.5,-2.0,-0.3,1.1,-2.6,-0.4,1.6,-1.8,-0.2,1.0,-2.4,-0.3,1.9,-0.5,-3.0,0.9,-0.4,-2.1,1.3,-0.2,-1.8,1.5,-2.8,-0.3,1.0,-0.5,-0.2,1.3],
   [-0.2,-2.1,1.3,-0.4,-2.6,1.0,-0.5,-0.2,1.9,-2.0,-0.3,-2.8,1.1,-0.4,-1.8,0.9,-2.4,1.5,-0.3,-0.1,-2.0,1.6,-0.4,-2.4,0.9,-1.8,1.3,-0.2,-0.5,1.0]],
  [[0.1,-1.5,1.8,-0.2,1.3,-2.4,0.0,2.1,-1.4,0.2,-0.1,2.7,-1.8,1.3,0.0,-1.3,1.5,-2.7,0.2,1.4,-0.2,0.1,-2.1,1.8,0.0,-1.4,1.3,2.4,-0.1,0.2],
   [-1.3,1.4,0.0,-2.1,1.5,0.1,-0.2,2.4,-1.5,0.0,1.3,-1.4,1.8,-0.1,-2.4,0.2,1.4,-1.3,2.1,0.0,-1.8,1.3,0.1,-0.2,2.7,-1.5,0.0,1.4,-1.3,0.1],
   [1.4,0.0,-1.8,1.3,-0.2,2.1,-1.4,0.1,1.5,-2.4,0.2,0.0,-1.3,1.8,-1.5,0.1,2.4,-0.2,0.0,-1.8,1.4,-0.1,1.5,-1.4,0.2,2.1,-2.1,0.1,1.3,-0.2],
   [0.0,1.3,-1.3,1.8,-1.5,0.2,1.4,-2.1,0.1,1.3,-0.2,1.5,0.0,-1.4,2.1,-0.1,-1.5,0.2,1.8,-1.3,0.0,2.4,-1.4,0.2,-0.1,1.4,-1.8,0.0,1.5,-0.2]],
  [[1.0,2.3,-0.3,1.1,2.8,-0.2,1.2,-0.6,1.0,2.6,-0.1,1.1,3.0,-0.3,1.0,2.3,-0.2,1.2,-0.8,1.1,2.6,-0.1,1.0,2.3,-0.3,1.2,2.8,-0.1,1.1,1.0],
   [-0.2,1.2,1.0,-0.6,2.3,1.1,-0.1,2.8,1.0,-0.3,1.2,2.6,-0.2,1.0,2.3,-0.6,1.1,2.6,-0.1,1.2,-0.3,1.0,3.1,1.1,-0.2,2.3,1.0,-0.3,1.2,1.1],
   [1.2,-0.1,2.6,1.0,-0.3,2.3,1.1,-0.2,2.8,1.0,1.2,-0.6,1.1,2.3,-0.1,2.6,1.0,-0.3,1.2,2.8,-0.1,1.1,-0.2,2.3,1.0,2.6,-0.6,1.2,-0.1,1.1],
   [-0.1,1.1,-0.2,2.6,1.2,-0.1,1.0,2.3,-0.3,1.1,2.8,1.0,-0.2,1.2,1.1,-0.1,2.6,1.0,2.3,-0.2,1.1,1.2,-0.1,2.8,1.0,-0.2,2.3,1.1,1.0,-0.1]],
  [[1.9,0.4,3.5,1.7,3.0,-0.2,1.8,3.9,0.7,2.0,0.3,3.4,1.9,0.0,2.1,4.2,0.8,1.9,0.4,3.3,1.7,3.6,0.2,2.0,1.8,0.5,3.4,1.9,0.3,2.1],
   [0.6,3.3,0.4,2.0,4.0,1.7,0.2,3.2,1.8,3.5,0.5,1.9,3.3,0.3,1.8,2.1,0.6,3.6,0.0,1.9,3.2,0.5,1.8,3.4,1.7,2.0,0.3,3.2,1.9,0.6],
   [3.1,1.7,0.3,3.4,1.9,0.5,3.6,1.8,0.0,3.2,1.7,2.0,0.4,3.5,1.8,0.3,3.1,1.7,3.4,0.6,0.2,2.0,3.9,1.8,0.5,3.2,1.9,0.4,3.3,1.8],
   [1.7,3.0,3.4,0.5,1.8,3.2,0.3,1.9,3.5,0.6,3.1,0.4,1.8,3.3,1.7,-0.2,2.0,3.2,0.6,1.9,3.5,0.4,1.7,3.1,1.9,0.5,3.3,1.8,0.6,2.0]],
  [[0.6,2.4,-1.2,0.8,2.8,-0.9,0.7,3.0,-0.6,-1.4,1.9,0.5,2.6,-1.0,0.7,2.9,0.6,-1.6,0.8,2.2,-0.6,0.7,3.2,-0.9,0.6,2.4,-1.0,1.9,0.5,0.7],
   [-0.6,1.9,0.6,-1.4,2.6,0.7,-0.9,2.2,2.9,0.5,-1.0,0.8,2.4,-0.6,-1.8,0.7,2.8,0.6,-1.0,1.9,0.5,3.0,-0.9,0.7,2.2,-1.2,0.6,2.6,-0.6,0.8],
   [1.9,-0.9,2.2,0.5,-1.2,1.9,2.9,-0.6,0.7,2.4,-1.0,0.6,1.9,3.0,-0.9,0.8,-1.4,0.6,2.6,0.5,1.9,-1.0,2.2,0.6,2.8,-0.6,0.7,-1.2,1.9,0.5],
   [0.5,0.7,2.6,-0.9,1.9,0.6,-1.4,2.4,0.5,1.9,2.8,-0.9,0.6,1.9,-1.0,2.2,0.7,2.9,-0.6,0.6,-1.2,1.9,0.5,2.6,-0.9,1.9,2.4,0.5,0.7,-0.6]],
  [[-0.5,1.3,-2.6,-0.2,-2.1,1.7,-0.6,-3.1,0.9,-1.7,1.2,-2.2,-0.4,-3.2,-0.3,1.5,-1.9,-0.5,-2.8,1.1,-0.6,-2.1,0.9,-2.4,-0.4,-1.7,1.3,-2.9,-0.5,-0.2],
   [-1.9,0.9,-0.5,-2.8,1.2,-1.7,-0.3,-2.4,1.5,-0.6,-2.9,0.8,-2.1,1.1,-0.5,-2.6,-0.3,1.7,-1.9,-0.4,-3.1,0.9,-1.7,1.2,-2.2,-0.5,0.8,-2.8,1.0,-0.6],
   [-0.3,-2.1,1.1,-0.6,-2.9,0.8,-1.9,1.3,-2.2,-0.5,0.9,-2.6,1.2,-1.7,-8,-3.2,-0.6,1.0,-2.1,-0.3,1.5,-2.4,-0.5,-1.9,0.8,-2.8,1.1,-0.6,-2.2,-0.4],
   [-0.6,-2.4,0.8,1.3,-1.9,-0.4,-2.8,0.9,-1.7,1.2,-2.2,-0.5,-3.1,-0.3,1.1,-2.1,-0.6,0.8,-2.6,1.5,-0.5,-1.9,-2.9,0.9,-0.6,1.3,-2.1,-0.4,-2.4,-0.3]],
  [[0.9,2.5,-0.6,1.0,3.0,-0.3,1.1,-0.8,0.9,2.8,-0.4,1.2,-1.0,1.0,3.2,-0.4,1.1,-0.5,2.6,0.9,-0.6,2.4,1.0,-0.3,2.8,-0.4,1.1,-0.5,1.0,2.4],
   [1.1,-0.3,2.4,0.9,-0.8,2.6,1.0,-0.4,3.0,-0.5,1.1,0.9,2.6,-0.6,1.0,2.4,-0.3,2.8,0.9,-0.5,1.1,3.0,-0.4,1.0,-0.6,2.4,0.9,2.6,-0.3,1.0],
   [-0.4,1.0,2.8,-0.5,1.1,0.9,2.6,-0.6,1.0,2.4,-0.3,3.0,0.9,1.1,-0.8,1.0,2.6,-0.4,1.1,2.8,-0.5,0.9,2.4,-0.4,1.0,3.0,-0.3,1.1,0.9,-0.5],
   [1.0,-0.5,0.9,2.6,-0.4,1.1,-0.6,2.4,1.0,-0.3,2.8,1.0,-0.5,2.4,0.9,1.1,-0.6,2.6,1.0,-0.4,2.4,-0.3,2.8,0.9,1.1,-0.5,1.0,2.6,-0.4,1.1]],
  [[-0.1,1.5,-1.9,0.2,-1.4,2.0,-0.2,-2.4,1.3,0.0,-1.5,1.8,-1.3,0.1,-2.7,1.4,-0.1,2.1,-1.8,0.2,-1.3,2.4,-0.2,-1.9,1.3,0.0,-1.4,1.5,-2.2,0.1],
   [1.2,-1.4,1.8,-0.1,-2.2,1.3,0.0,-1.5,2.1,-0.2,1.4,-2.4,0.1,-1.3,2.0,-1.8,0.2,-0.1,1.5,-1.9,0.0,1.3,-1.4,2.4,-0.2,-1.8,1.4,0.1,-1.3,1.8],
   [-1.4,0.1,1.3,-1.9,1.5,-0.2,2.0,-1.5,0.0,1.4,-2.2,0.2,1.8,-1.3,0.0,-1.8,2.1,-0.1,1.3,-2.4,1.4,-0.2,0.1,-1.5,1.8,0.2,-1.9,0.0,1.5,-1.3],
   [0.0,-1.8,1.4,0.1,-1.3,2.1,-1.5,0.2,-0.1,-2.2,1.5,0.0,-1.4,1.8,-0.2,1.3,-1.9,0.1,2.0,-1.3,-1.5,0.2,1.8,-0.1,-2.4,1.4,0.0,-0.2,1.3,-1.4]],
  [[0,2,-1,3,0,1,-2,2,0,4,-1,1,2,-1,0,3,1,-2,2,0,-1,3,1,0,-2,2,1,-1,3,0,1,-2,2,0,4,-1,1,0,2,-1,3,0,1,-2,2,1,0,-1,2,1],
   [1,-1,2,0,3,-2,1,2,0,-1,4,1,0,-2,2,1,3,-1,0,2,-1,1,0,3,-2,1,2,-1,0,3,1,-2,2,0,1,-1,3,0,1,-1,9.5,2,0,1,-2,3,0,1,2,-1],
   [0.5,2,-1,1,3,0,-2,2,1,-1,0,3,-1,2,0,1,-3,2,0,1,3,-1,0,2,1,-2,1,0,3,-1,2,0,-2,1,2,0,-1,3,1,-11,0,2,-1,1,3,0,-2,1,2,0],
   [2,0,1,-1,3,1,0,-2,2,1,0,4,-1,1,2,0,-2,3,1,0,-1,2,1,-1,0,3,1,-2,2,0,1,3,-1,0,2,1,-2,0,3,1,0,-1,2,4,0,1,-1,2,0,1]],
  [[0,3,-3,1,-4,2,0,-2,4,-1,2,-3,9,0,3,-2,1,5,-1,0,-4,2,1,-3,3,0,-1,4,-2,1,0,-5,2,1,-2,3,0,-1,4,-3,1,0,2,-2,5,0,-1,3,-2,1],
   [2,-1,4,0,-3,1,5,-2,0,2,-4,1,-1,3,0,-2,6,1,-1,0,3,-3,1,-1,2,4,0,-2,1,-1,-3,2,0,-9,1,3,-2,0,4,-1,2,0,-3,1,5,-1,0,2,-2,1],
   [-1,2,0,-3,3,1,-2,4,0,-1,2,-4,1,3,-2,0,1,-1,4,-3,2,0,-2,3,1,-5,2,0,3,-1,1,-2,4,0,-3,2,1,-1,3,0,-2,1,5,-1,0,2,-3,1,0,2],
   [1,-2,3,-1,0,4,-3,1,2,-1,0,3,-2,1,-4,2,0,-1,3,1,-2,5,0,-1,2,-3,1,4,-1,0,2,-2,1,0,-4,3,1,-1,2,0,-3,4,1,-2,0,2,-1,3,0,-2]],
  [[-0.2,1.3,-1.8,0.1,-1.4,1.5,-2.2,-0.1,1.2,-1.5,1.4,-1.3,-2.4,0.0,1.3,-1.8,-0.2,1.8,-1.4,0.1,-2.0,1.2,-1.3,1.5,-0.1,-1.8,1.3,-1.4,0.0,-0.2],
   [1.1,-1.5,1.3,-0.2,-2.0,1.4,0.0,-1.4,1.8,-1.3,-2.2,1.2,-0.1,1.5,-1.8,0.0,-1.3,1.4,-2.4,0.1,1.3,-1.4,-0.1,1.8,-1.5,1.2,-0.2,-2.0,1.3,-0.1],
   [-1.4,0.0,1.5,-1.3,1.2,-1.8,1.4,-0.1,-1.5,1.3,0.0,-2.2,1.5,-0.2,1.1,-1.4,1.8,-1.3,0.0,-1.8,1.2,1.4,-1.5,0.0,-1.3,1.5,-2.0,0.1,-0.2,1.3],
   [0.0,-1.3,1.2,1.8,-1.5,-0.1,1.3,-2.0,0.1,1.4,-0.2,0.0,-1.8,1.3,1.5,-1.4,0.1,-2.2,1.2,-0.1,1.4,-1.5,0.0,1.3,-1.4,0.1,1.8,-1.3,-1.8,1.2]],
  [[0.3,2.2,-1.4,0.6,-1.1,2.6,0.2,-1.8,2.0,0.4,-1.2,2.4,0.0,1.9,-1.6,0.5,2.8,-1.1,0.3,2.1,-1.3,0.6,0.1,2.2,-1.4,0.4,2.0,0.0,0.5,0.2],
   [0.0,1.8,2.4,-1.2,0.4,2.0,-1.6,0.3,2.6,0.1,-1.3,1.9,9.8,-1.1,2.1,0.2,-1.8,1.8,2.2,0.0,0.4,-1.2,2.8,0.3,1.9,-1.4,0.2,2.1,0.1,0.5],
   [1.8,-1.1,0.4,2.1,-1.3,0.5,0.0,2.2,0.3,-1.6,1.9,0.2,2.6,-1.2,0.4,2.0,0.0,-1.4,1.8,2.4,0.2,-1.1,0.5,2.1,-1.3,1.9,0.1,0.4,2.2,-1.2],
   [0.2,2.0,0.0,0.5,2.8,-1.2,1.8,0.3,-1.4,2.1,0.1,1.8,-1.1,2.2,0.4,-1.3,1.9,0.2,0.5,-1.6,2.0,2.4,0.0,0.3,1.8,-1.2,2.1,0.4,-1.1,0.5]],
  [[0,2,-1,1,-2,3,-1,0,2,-9,1,0,-2,2,1,-1,3,0,-2,1,2,-1,0,-3,1,2,0,-1,2,-2,1,0,3,-1,0,2,-2,1,-1,0,2,1,-3,0,1,2,-1,0,1,-1],
   [-1,1,2,-2,0,1,3,-1,0,-2,2,1,-1,0,3,-2,1,2,0,-1,1,-3,0,2,9,-1,1,0,-2,2,1,-1,3,0,-2,1,2,-1,0,1,-2,3,0,-1,2,1,-2,0,1,0],
   [1,-1,0,2,-2,1,0,3,-1,1,-2,0,2,1,-3,0,1,2,-1,0,2,-2,1,0,-1,3,1,-2,0,2,-1,1,0,-2,2,1,-1,3,0,-1,1,-2,2,0,1,-1,-8,1,0,2],
   [0,1,-2,2,0,-1,3,1,-2,0,1,-1,2,0,-3,1,2,-1,0,2,1,-2,0,3,-1,1,0,-2,2,1,-1,0,3,-2,1,0,-1,2,1,-3,0,2,-1,1,0,-2,2,1,-1,0]],
  [[0,1.2,-0.8,0.5,-1.5,1.8,-0.3,0.9,-1.1,0.2,1.4,-0.6,0.0,-1.8,0.7,1.1,-0.4,0.3,-1.2,1.6,-0.2,0.6,-0.9,1.0,-1.4,0.4,2.0,-0.5,0.8,-0.1],
   [0.4,-1.0,1.5,-0.2,0.8,-1.6,0.1,1.2,-0.7,0.5,-1.3,0.9,-0.1,1.7,-16,0.3,-0.8,1.1,0.0,-1.4,0.6,1.9,-0.5,0.2,-1.1,0.7,-0.3,1.3,-0.9,0.4],
   [-0.6,9.5,0.2,-1.3,1.6,-0.4,0.7,-0.9,1.2,0.0,-1.7,0.5,1.0,-0.2,-1.1,0.8,1.5,-0.6,0.3,-0.9,1.1,-0.3,0.6,-1.5,0.2,1.4,-0.7,0.1,-1.2,0.9],
   [0.8,-0.3,-1.2,1.0,0.1,-0.7,1.4,-1.5,0.4,0.9,-0.4,-1.0,1.6,0.2,-0.6,1.2,-1.3,0.5,0.0,1.8,-0.8,0.3,-1.6,0.7,1.1,-0.2,0.5,9,1.3,-0.4]]
];
var divDraws = [35, 549, 563, 688];

// axis ticks and limits
var sbTicks = [0.25,0.5,0.75,1.0,1.25,1.5,1.75,2.0,2.25];
var sgTicks = [0.2,0.4,0.6,0.8,1.0,1.2,1.4];
var syTicks = [0,0.25,0.5,0.75,1.0,1.25,1.5,1.75];
var betaTicks = [-15,-10,-5,0,5,10];
var drawTicks = [0,200,400,600,800];
var traceYLim = [[0.056,2.395],[-0.03,1.50],[-0.113,2.014],[-19.06,14.64]];
var traceYTicks = [[1,2],[0,0.5,1.0],[0,1],[-10,0,10]];

// ---- layout ----
var W = 1187, H = 789;
var rowTop = [29, 225.5, 422, 618.5], boxH = 137.5;
var colX = [14, 623], colW = [555, 554];
var C0 = "#1f77b4";
var tab10 = d3.schemeCategory10;
var dashes = [null, "5.2,2.2", "1.4,2.3", "8.8,2.2,1.4,2.2"];

var svg = d3.select("body").append("svg")
  .attr("width", W).attr("height", H).style("display", "block");
svg.append("rect").attr("width", W).attr("height", H).attr("fill", "#fff");

var line = d3.line()
  .defined(function(d) { return d[1] != null; })
  .curve(d3.curveMonotoneX);

function panel(row, col, title) {
  var g = svg.append("g").attr("transform", "translate(" + colX[col] + "," + rowTop[row] + ")");
  var id = "clip" + row + "_" + col;
  g.append("clipPath").attr("id", id).append("rect")
    .attr("width", colW[col]).attr("height", boxH);
  var plot = g.append("g").attr("clip-path", "url(#" + id + ")");
  g.append("text")
    .attr("x", colW[col] / 2).attr("y", -7)
    .attr("text-anchor", "middle").attr("font-size", 14.8).attr("fill", "#000")
    .text(title);
  return { g: g, plot: plot, w: colW[col] };
}

function styleAxis(ax) {
  ax.select(".domain").remove();
  ax.selectAll("line").attr("stroke", "#000").attr("stroke-width", 1.1);
  ax.selectAll("text").attr("font-size", 12.4).attr("font-family", "DejaVu Sans").attr("fill", "#000");
}

function box(p) {
  p.g.append("rect").attr("width", p.w).attr("height", boxH)
    .attr("fill", "none").attr("stroke", "#000").attr("stroke-width", 1.1);
}

function rug(p, x, vals) {
  p.plot.append("g").selectAll("line").data(vals).enter().append("line")
    .attr("x1", function(d) { return x(d); }).attr("x2", function(d) { return x(d); })
    .attr("y1", boxH).attr("y2", boxH - 27)
    .attr("stroke", "#000").attr("stroke-opacity", 0.4).attr("stroke-width", 1.6);
}

// curves: [{x:[], y:[], chain:0..3, color}]
function kdePanel(row, title, curves, divs, ticks, fmt) {
  var p = panel(row, 0, title);
  var xs = [];
  curves.forEach(function(c) {
    c.x.forEach(function(v, i) { if (c.y[i] != null) xs.push(v); });
  });
  var ext = d3.extent(xs), pad = (ext[1] - ext[0]) * 0.05;
  var x = d3.scaleLinear().domain([ext[0] - pad, ext[1] + pad]).range([0, p.w]);
  var M = d3.max(curves, function(c) { return d3.max(c.y); });
  var y = d3.scaleLinear().domain([-0.112 * M, 1.053 * M]).range([boxH, 0]);

  curves.forEach(function(c) {
    var pts = c.x.map(function(v, i) { return [x(v), c.y[i] == null ? null : y(c.y[i])]; });
    p.plot.append("path").attr("d", line(pts))
      .attr("fill", "none").attr("stroke", c.color).attr("stroke-width", 1.4)
      .attr("stroke-dasharray", dashes[c.chain]);
  });
  rug(p, x, divs);

  var ax = p.g.append("g").attr("transform", "translate(0," + boxH + ")")
    .call(d3.axisBottom(x).tickValues(ticks).tickFormat(d3.format(fmt)).tickSize(4.8).tickPadding(3.4));
  styleAxis(ax);
  box(p);
}

// series: [{v:[], chain, color}]
function tracePanel(row, title, series, ylim, yticks, yfmt) {
  var p = panel(row, 1, title);
  var x = d3.scaleLinear().domain([0, 999]).range([0, p.w]);
  var y = d3.scaleLinear().domain(ylim).range([boxH, 0]);
  series.forEach(function(s) {
    var n = s.v.length;
    var pts = s.v.map(function(v, i) { return [x(i * 999 / (n - 1)), y(v)]; });
    p.plot.append("path").attr("d", d3.line()(pts))
      .attr("fill", "none").attr("stroke", s.color).attr("stroke-opacity", 0.35)
      .attr("stroke-width", 1.3).attr("stroke-dasharray", dashes[s.chain]);
  });
  rug(p, x, divDraws);

  var ax = p.g.append("g").attr("transform", "translate(0," + boxH + ")")
    .call(d3.axisBottom(x).tickValues(drawTicks).tickFormat(d3.format("d")).tickSize(4.8).tickPadding(3.4));
  styleAxis(ax);
  var ay = p.g.append("g")
    .call(d3.axisLeft(y).tickValues(yticks).tickFormat(d3.format(yfmt)).tickSize(4.8).tickPadding(4.2));
  styleAxis(ay);
  box(p);
}

function chainCurves(xs, ys) {
  return xs.map(function(xv, c) { return { x: xv, y: ys[c], chain: c, color: C0 }; });
}
function chainSeries(tr) {
  return tr.map(function(v, c) { return { v: v, chain: c, color: C0 }; });
}

// left column: densities
kdePanel(0, "sigmaBeta", chainCurves(sbKdeX, sbKdeY), sbDiv, sbTicks, ".2f");
kdePanel(1, "sigmaGamma", chainCurves(sgKdeX, sgKdeY), sgDiv, sgTicks, ".1f");
kdePanel(2, "sigmaY", chainCurves(syKdeX, syKdeY), syDiv, syTicks, ".2f");

var betaCurves = [];
betaKdeX.forEach(function(xv, k) {
  for (var c = 0; c < 4; c++) {
    betaCurves.push({ x: xv, y: betaKdeY[k][c], chain: c, color: tab10[k % 10] });
  }
});
kdePanel(3, "beta", betaCurves, betaDiv, betaTicks, "d");

// right column: traces
tracePanel(0, "sigmaBeta", chainSeries(sbTrace), traceYLim[0], traceYTicks[0], "d");
tracePanel(1, "sigmaGamma", chainSeries(sgTrace), traceYLim[1], traceYTicks[1], ".1f");
tracePanel(2, "sigmaY", chainSeries(syTrace), traceYLim[2], traceYTicks[2], "d");

var betaSeries = [];
for (var c = 0; c < 4; c++) {
  betaTrace.forEach(function(chains, k) {
    betaSeries.push({ v: chains[c], chain: c, color: tab10[k % 10] });
  });
}
tracePanel(3, "beta", betaSeries, traceYLim[3], traceYTicks[3], "d");
</script>
</body>
</html>
